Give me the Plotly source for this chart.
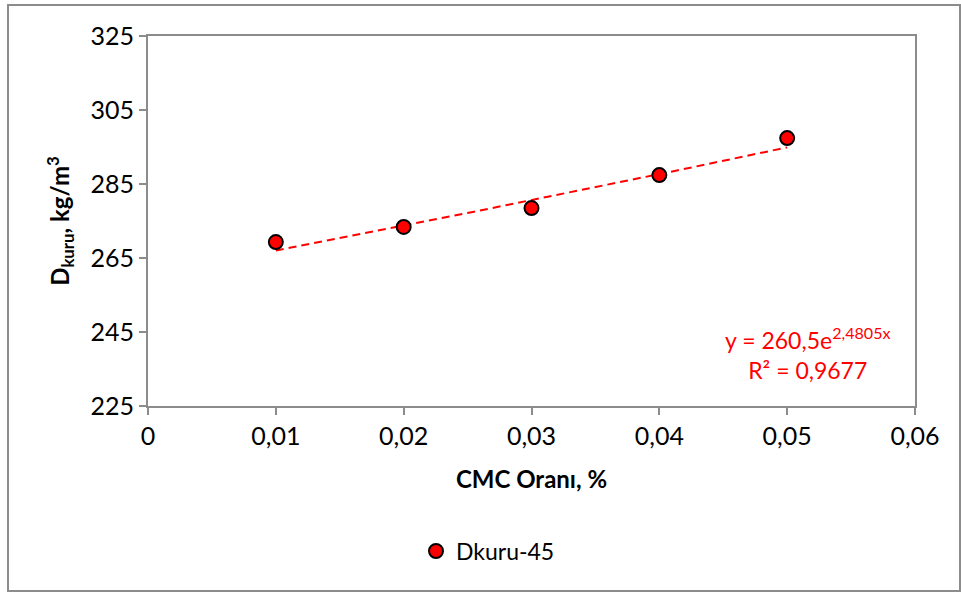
import numpy as np
import plotly.graph_objects as go

# Data
cmc_ratio = [0.01, 0.02, 0.03, 0.04, 0.05]
d_kuru = [269.3, 273.4, 278.5, 287.4, 297.4]
series_name = "Dkuru-45"

# Exponential trendline coefficients (as shown on chart)
fit_a = 260.5
fit_b = 2.4805
r2_text = "0,9677"

x_ticks = [0, 0.01, 0.02, 0.03, 0.04, 0.05, 0.06]
x_tick_labels = ["0", "0,01", "0,02", "0,03", "0,04", "0,05", "0,06"]
y_ticks = [225, 245, 265, 285, 305, 325]
y_tick_labels = ["225", "245", "265", "285", "305", "325"]

FONT = "Lato, 'Open Sans', sans-serif"

trend_x = np.linspace(min(cmc_ratio), max(cmc_ratio), 50)
trend_y = fit_a * np.exp(fit_b * trend_x)

fig = go.Figure()
fig.add_trace(go.Scatter(
    x=trend_x, y=trend_y, mode="lines",
    line=dict(color="#ff0000", width=2, dash="8px,5px"),
    showlegend=False, hoverinfo="skip"))
fig.add_trace(go.Scatter(
    x=cmc_ratio, y=d_kuru, mode="markers", name=series_name,
    marker=dict(color="#ff0000", size=14, line=dict(color="black", width=2))))

eq_text = ("y = " + f"{fit_a:.1f}".replace(".", ",") + "e<sup>" + f"{fit_b}".replace(".", ",")
           + "x</sup><br>R² = " + r2_text)

fig.update_layout(
    width=961, height=593,
    margin=dict(l=148, r=46, t=36, b=187),
    paper_bgcolor="white", plot_bgcolor="white",
    font=dict(family=FONT, size=25, color="black"),
    showlegend=True,
    legend=dict(orientation="h", x=(416 - 148) / 767, y=-0.392, xanchor="left", yanchor="middle",
                font=dict(size=23), bgcolor="rgba(0,0,0,0)", itemwidth=30),
    xaxis=dict(range=[0, 0.06], tickvals=x_ticks, ticktext=x_tick_labels,
               tickfont=dict(size=25),
               showgrid=False, zeroline=False, showline=True, linecolor="#8c8c8c",
               linewidth=2, mirror=True, ticks="outside", ticklen=7, tickcolor="#8c8c8c",
               tickwidth=2,
               title=dict(text="<b>CMC Oranı, %</b>", font=dict(size=24), standoff=22)),
    yaxis=dict(range=[225, 325], tickvals=y_ticks, ticktext=y_tick_labels,
               tickfont=dict(size=25),
               showgrid=False, zeroline=False, showline=True, linecolor="#8c8c8c",
               linewidth=2, mirror=True, ticks="outside", ticklen=7, tickcolor="#8c8c8c",
               tickwidth=2,
               title=dict(text="<b>D<sub>kuru</sub>, kg/m<sup>3</sup></b>", font=dict(size=24),
                          standoff=14)),
    shapes=[dict(type="rect", xref="paper", yref="paper",
                 x0=(8 - 148) / 767, x1=(960 - 148) / 767,
                 y0=(406 - 591) / 370, y1=(406 - 5) / 370,
                 line=dict(color="#8c8c8c", width=2), layer="below")],
    annotations=[dict(xref="paper", yref="paper", x=(807 - 148) / 767, y=(406 - 353) / 370,
                      text=eq_text,
                      showarrow=False, align="center", xanchor="center", yanchor="middle",
                      font=dict(size=23, color="#ff0000"))],
)

fig.write_html("out.html")
